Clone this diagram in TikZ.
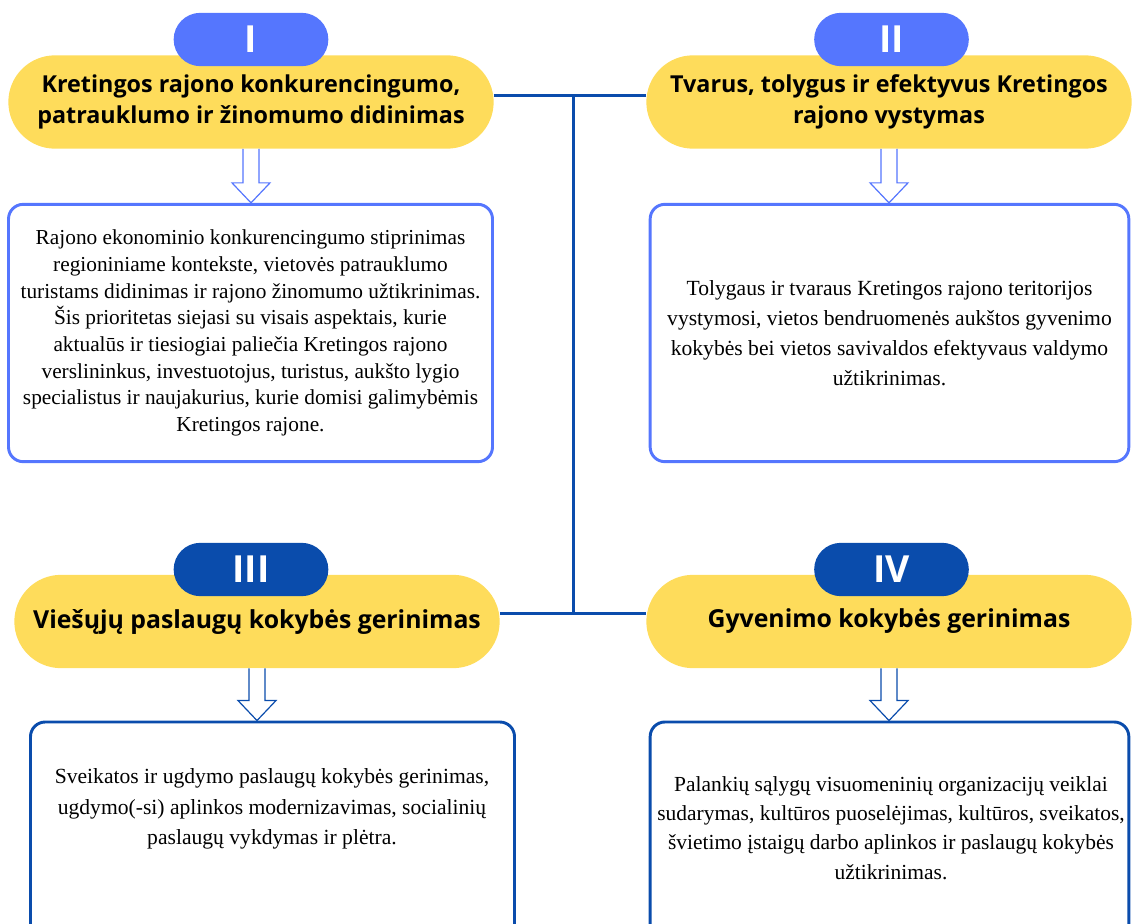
\documentclass[tikz,border=0pt]{standalone}
\usepackage{fontspec}
\setmainfont{Liberation Serif}
\newfontfamily\headfont{Open Sans}
\usetikzlibrary{calc}
\definecolor{lemon}{HTML}{FEDC5B}
\definecolor{paleblue}{HTML}{5576FE}
\definecolor{deepblue}{HTML}{0A4CAC}
\tikzstyle{title}=[fill=lemon,rounded corners=35pt,minimum width=364pt,minimum height=70pt,inner sep=0pt,align=center,font=\headfont\bfseries\fontsize{17.5}{23}\selectfont]
\tikzstyle{badge}=[rounded corners=20pt,minimum width=116pt,minimum height=40pt,inner sep=0pt,text=white,font=\headfont\bfseries\fontsize{28}{30}\selectfont]
\tikzstyle{descbox}=[line width=2.2pt,rounded corners=11pt,fill=white,align=center]
\tikzstyle{desctext}=[align=center]
\tikzstyle{link}=[draw=deepblue,line width=2.3pt]
\tikzstyle{blockarrow}=[line width=0.9pt,fill=white,to path={($(\tikztostart)+(-8,0)$) -- ($(\tikztotarget)+(-8,-20)$) -- ($(\tikztotarget)+(-19,-20)$) -- (\tikztotarget) -- ($(\tikztotarget)+(19,-20)$) -- ($(\tikztotarget)+(8,-20)$) -- ($(\tikztostart)+(8,0)$)}]

\begin{document}
\begin{tikzpicture}[x=0.75pt,y=-0.75pt]
                  \useasboundingbox (0,0) rectangle (1132,924);
                  \clip (0,0) rectangle (1132,924);

                  \node (t1) at (251,102) [title] {Kretingos rajono konkurencingumo,\\patrauklumo ir žinomumo didinimas};
                  \node (t2) at (889,102) [title] {Tvarus, tolygus ir efektyvus Kretingos\\rajono vystymas};
                  \node (t3) at (257,621.5) [title,font=\headfont\bfseries\fontsize{18.6}{23}\selectfont] {Viešųjų paslaugų kokybės gerinimas};
                  \node (t4) at (889,621.5) [title,font=\headfont\bfseries\fontsize{18.6}{23}\selectfont] {Gyvenimo kokybės gerinimas};

                  \node (b1) at (251,39.5) [badge,fill=paleblue] {I};
                  \node (b2) at (891.5,39.5) [badge,fill=paleblue] {II};
                  \node (b3) at (251,569.5) [badge,fill=deepblue] {III};
                  \node (b4) at (891.5,569.5) [badge,fill=deepblue] {IV};

                  \node (d1) at (250.5,333) [descbox,draw=paleblue,minimum width=363pt,minimum height=193pt,font=\fontsize{16}{20}\selectfont] {Rajono ekonominio konkurencingumo stiprinimas\\regioniniame kontekste, vietovės patrauklumo\\turistams didinimas ir rajono žinomumo užtikrinimas.\\Šis prioritetas siejasi su visais aspektais, kurie\\aktualūs ir tiesiogiai paliečia Kretingos rajono\\verslininkus, investuotojus, turistus, aukšto lygio\\specialistus ir naujakurius, kurie domisi galimybėmis\\Kretingos rajone.};
                  \node (d2) at (889.5,333) [descbox,draw=paleblue,minimum width=359pt,minimum height=193pt,font=\fontsize{16.2}{22.5}\selectfont] {Tolygaus ir tvaraus Kretingos rajono teritorijos\\vystymosi, vietos bendruomenės aukštos gyvenimo\\kokybės bei vietos savivaldos efektyvaus valdymo\\užtikrinimas.};
                  \node (d3) at (272.5,850) [descbox,draw=deepblue,minimum width=363pt,minimum height=192pt] {};
                  \node (d4) at (889.5,850) [descbox,draw=deepblue,minimum width=359pt,minimum height=192pt] {};

                  \node (s3) at (272,809) [desctext,font=\fontsize{16.2}{23}\selectfont] {Sveikatos ir ugdymo paslaugų kokybės gerinimas,\\ugdymo(-si) aplinkos modernizavimas, socialinių\\paslaugų vykdymas ir plėtra.};
                  \node (s4) at (891,828) [desctext,font=\fontsize{16.1}{22}\selectfont] {Palankių sąlygų visuomeninių organizacijų veiklai\\sudarymas, kultūros puoselėjimas, kultūros, sveikatos,\\švietimo įstaigų darbo aplinkos ir paslaugų kokybės\\užtikrinimas.};

                  \draw [blockarrow,draw=paleblue] (t1.south) to (t1.south |- d1.north);
                  \draw [blockarrow,draw=paleblue] (t2.south) to (t2.south |- d2.north);
                  \draw [blockarrow,draw=deepblue] (t3.south) to (t3.south |- d3.north);
                  \draw [blockarrow,draw=deepblue] (t4.south) to (t4.south |- d4.north);

                  \draw [link] ([yshift=5pt]t1.east) -- coordinate[pos=0.52] (top) ([yshift=5pt]t2.west);
                  \draw [link] ([yshift=6pt]t3.east) -- coordinate[pos=0.5] (bot) ([yshift=6pt]t4.west);
                  \draw [link] (top) -- (top |- bot);
              \end{tikzpicture}
\end{document}
